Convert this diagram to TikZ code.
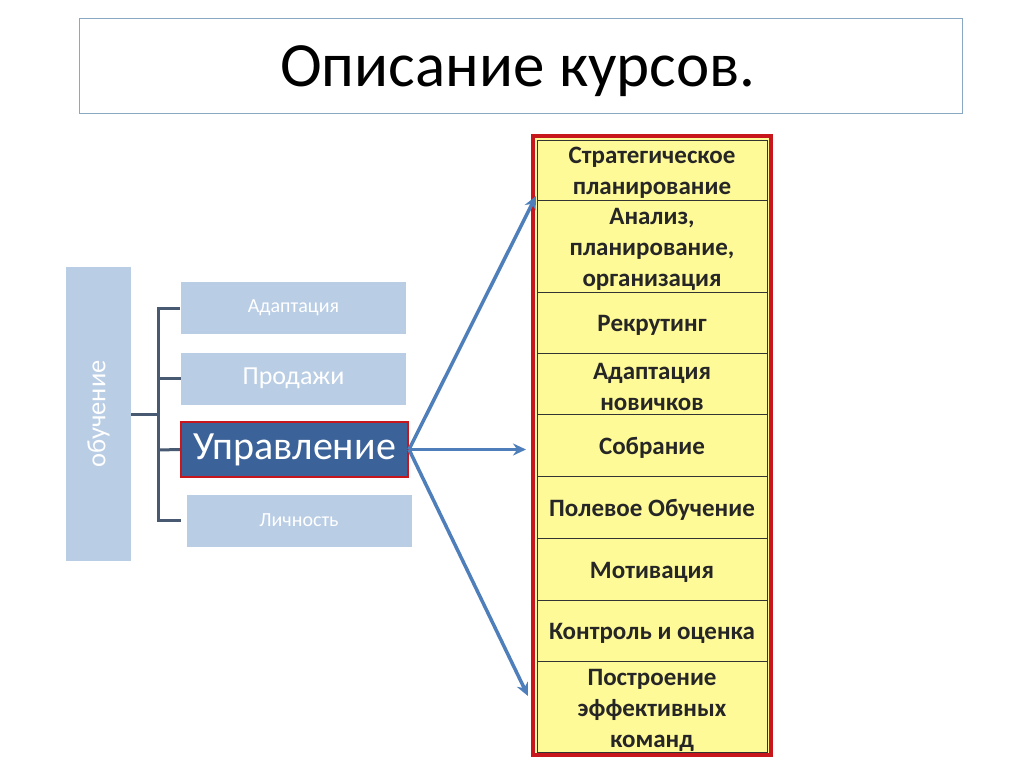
\documentclass[tikz,border=0pt]{standalone}
\usepackage{fontspec}
\setmainfont{Carlito}
\usetikzlibrary{arrows.meta}
\definecolor{paleblue}{HTML}{B9CDE5}
\definecolor{darkblue}{HTML}{3C6399}
\definecolor{arrowblue}{HTML}{4F7FBA}
\definecolor{bracketgray}{HTML}{475A72}
\definecolor{rowyellow}{HTML}{FFFA98}
\definecolor{boxred}{HTML}{C8161D}
\definecolor{titleline}{HTML}{8AA8C3}
\tikzset{
  pale/.style={fill=paleblue, text=white, inner sep=0pt, minimum width=225pt, minimum height=52pt},
  rowtext/.style={font=\bfseries\fontsize{25}{31}\selectfont, text=black!85, align=center},
  link/.style={draw=arrowblue, line width=3.5pt, -{Stealth[length=13pt,width=12pt]}},
}
\begin{document}
\begin{tikzpicture}[x=1pt,y=-1pt]
\useasboundingbox (0,0) rectangle (1024,768);
\fill[white] (0,0) rectangle (1024,768);
% title
\draw[titleline, line width=0.8pt] (79,18) rectangle (962,113);
\node (title) at (518,71) {\fontsize{63}{66}\selectfont Описание курсов.};
% left part
\node[fill=paleblue, minimum width=65pt, minimum height=294pt, inner sep=0pt] (learn) at (98.5,414) {};
\node[rotate=90, text=white, font=\fontsize{26.5}{30}\selectfont] at (learn) {обучение};
\node[pale] (adapt) at (293.5,308) {\fontsize{20}{24}\selectfont Адаптация};
\node[pale] (sales) at (293.5,378.5) {\fontsize{26}{30}\selectfont Продажи};
\node[fill=darkblue, draw=boxred, line width=2pt, text=white, inner sep=0pt,
  minimum width=227pt, minimum height=55pt] (manage) at (294.5,449.5) {\fontsize{40}{44}\selectfont Управление};
\node[pale] (person) at (299,520.5) {\fontsize{20}{24}\selectfont Личность};
% bracket
\draw[bracketgray, line width=3pt] (learn.east |- 0,414) -- (158,414);
\draw[bracketgray, line width=3pt] (180,308) -- (158,308) -- (158,520) -- (adapt.west |- 0,520);
\draw[bracketgray, line width=3pt] (158,378) -- (sales.west |- 0,378);
\draw[bracketgray, line width=3pt] (158,450) -- (manage.west);
% right column
\fill[rowyellow] (533,136) rectangle (771,755);
\foreach \y in {200,292,353,414,476,538,600,661}
  \draw[black!80, line width=1pt] (537,\y) -- (767,\y);
\draw[black!80, line width=1pt] (537,140) rectangle (767,752);
\draw[boxred, line width=3.5pt] (533,136) rectangle (771,755);
\node[rowtext] (r1) at (652,172.5) {Стратегическое\\планирование};
\node[rowtext] (r2) at (652,249.5) {Анализ,\\планирование,\\организация};
\node[rowtext] (r3) at (652,325) {Рекрутинг};
\node[rowtext] (r4) at (652,386.5) {Адаптация\\новичков};
\node[rowtext] (r5) at (652,448) {Собрание};
\node[rowtext] (r6) at (652,510) {Полевое Обучение};
\node[rowtext] (r7) at (652,572) {Мотивация};
\node[rowtext] (r8) at (652,633) {Контроль и оценка};
\node[rowtext] (r9) at (652,710.5) {Построение\\эффективных\\команд};
% arrows
\coordinate (top) at (536,196);
\coordinate (mid) at (526,449.5);
\coordinate (low) at (528,696);
\draw[link] (manage.east) -- (top);
\draw[link] (manage.east) -- (mid);
\draw[link] (manage.east) -- (low);
\end{tikzpicture}
\end{document}
